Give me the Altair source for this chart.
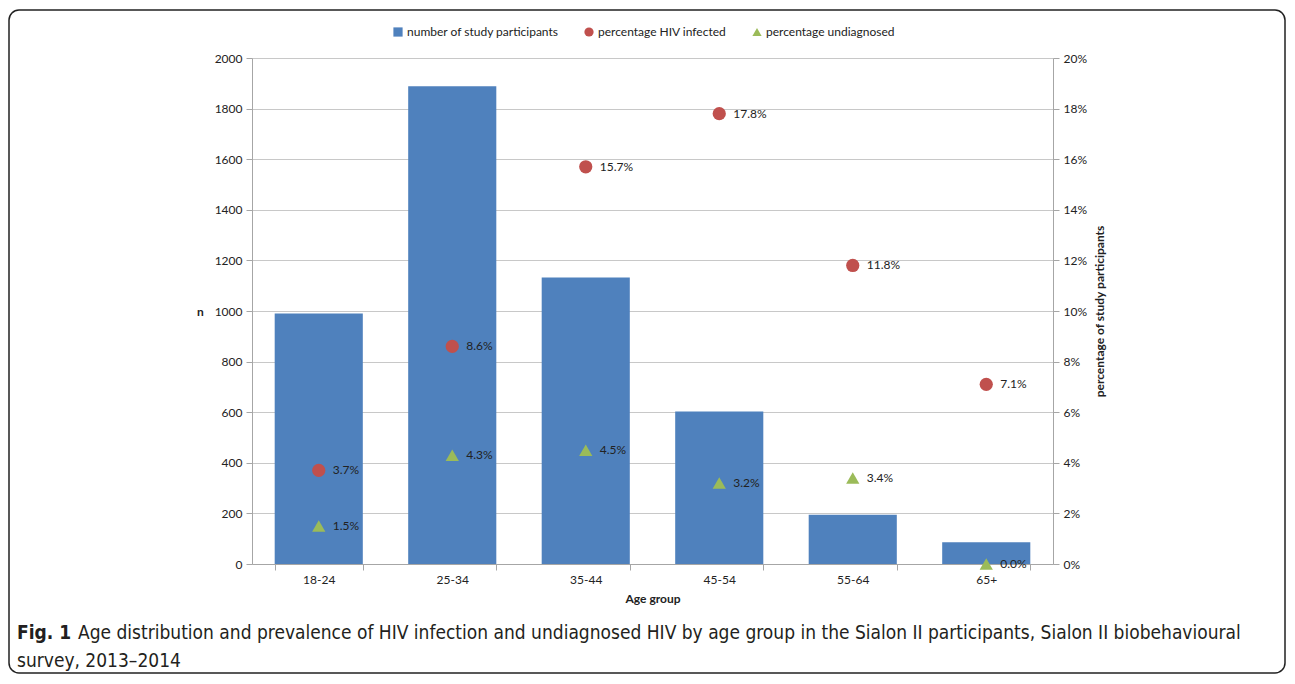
import altair as alt
import pandas as pd

ages = ["18-24", "25-34", "35-44", "45-54", "55-64", "65+"]
participants = [990, 1888, 1132, 603, 195, 86]
pct_hiv = [3.7, 8.6, 15.7, 17.8, 11.8, 7.1]
pct_undiag = [1.5, 4.3, 4.5, 3.2, 3.4, 0.0]
series_names = ["number of study participants", "percentage HIV infected", "percentage undiagnosed"]
caption_bold = "Fig. 1"
caption_1 = "Age distribution and prevalence of HIV infection and undiagnosed HIV by age group in the Sialon II participants, Sialon II biobehavioural"
caption_2 = "survey, 2013\u20132014"

rows = []
for a, n in zip(ages, participants):
    rows.append({"age": a, "series": series_names[0], "n": n, "pct": None, "label": ""})
for a, p in zip(ages, pct_hiv):
    rows.append({"age": a, "series": series_names[1], "n": None, "pct": p, "label": f"{p:.1f}%"})
for a, p in zip(ages, pct_undiag):
    rows.append({"age": a, "series": series_names[2], "n": None, "pct": p, "label": f"{p:.1f}%"})
df = pd.DataFrame(rows)

FONT = "Lato"
FS = 12
CAP_FONT = "DejaVu Sans Condensed, Roboto"
CAP_FS = 19
W, H = 801, 506

color_scale = alt.Scale(domain=series_names, range=["#4F81BD", "#C0504D", "#9BBB59"])
shape_scale = alt.Scale(domain=series_names, range=["square", "circle", "triangle-up"])
legend = alt.Legend(title=None, orient="none", legendX=140, legendY=-32, direction="horizontal",
                    labelFont=FONT, labelFontSize=FS, labelColor="#222", symbolSize=85,
                    columnPadding=24, symbolStrokeWidth=0, labelOffset=3)

x_enc = alt.X("age:N", sort=ages, title="Age group",
              scale=alt.Scale(paddingInner=0.34, paddingOuter=0.17),
              axis=alt.Axis(labelAngle=0, tickBand="extent", grid=False, domainColor="#A6A6A6",
                            tickColor="#A6A6A6", tickSize=6, labelPadding=4, titlePadding=8,
                            labelFont=FONT, labelFontSize=FS, labelColor="#222",
                            titleFont=FONT, titleFontSize=FS, titleFontWeight="bold", titleColor="#222"))

base = alt.Chart(df)

bars = base.transform_filter(alt.datum.series == series_names[0]).mark_bar().encode(
    x=x_enc,
    y=alt.Y("n:Q", scale=alt.Scale(domain=[0, 2000]), title="n",
            axis=alt.Axis(values=list(range(0, 2001, 200)), format="d", grid=True, gridColor="#C8C8C8",
                          domainColor="#A6A6A6", tickColor="#A6A6A6", tickSize=6, labelPadding=4,
                          labelFont=FONT, labelFontSize=FS, labelColor="#222",
                          titleFont=FONT, titleFontSize=FS, titleFontWeight="bold", titleColor="#222",
                          titleAngle=0, titleX=-52, titleY=H / 2, titleBaseline="middle")),
    color=alt.Color("series:N", scale=color_scale, legend=legend),
)

pct_base = base.transform_filter(alt.datum.series != series_names[0])
y_pct = alt.Y("pct:Q", scale=alt.Scale(domain=[0, 20]), title="percentage of study participants",
              axis=alt.Axis(orient="right", values=list(range(0, 21, 2)), labelExpr="datum.value + '%'",
                            grid=False, domainColor="#A6A6A6", tickColor="#A6A6A6", tickSize=6,
                            labelPadding=4, labelFont=FONT, labelFontSize=FS, labelColor="#222",
                            titleFont=FONT, titleFontSize=FS, titleFontWeight="bold", titleColor="#222",
                            titleAngle=270, titleAlign="center", titleBaseline="middle",
                            titleX=46, titleY=H / 2))

points = pct_base.mark_point(filled=True, size=175, opacity=1).encode(
    x=alt.X("age:N", sort=ages),
    y=y_pct,
    color=alt.Color("series:N", scale=color_scale, legend=legend),
    shape=alt.Shape("series:N", scale=shape_scale, legend=legend),
)
labels = pct_base.mark_text(align="left", baseline="middle", dx=14, font=FONT, fontSize=FS, color="#222").encode(
    x=alt.X("age:N", sort=ages),
    y=alt.Y("pct:Q"),
    text="label:N",
)
right = alt.layer(points, labels)

dummy = alt.Chart(pd.DataFrame({"k": [0]}))
border = dummy.mark_rect(filled=False, stroke="#222", strokeWidth=1.5, cornerRadius=10).encode(
    x=alt.value(-243), x2=alt.value(1033), y=alt.value(-48), y2=alt.value(615))
cap_b = dummy.mark_text(align="left", baseline="middle", font=CAP_FONT, fontSize=CAP_FS,
                        fontWeight="bold", color="#231F20").encode(
    x=alt.value(-235), y=alt.value(575), text=alt.value(caption_bold))
cap_1 = dummy.mark_text(align="left", baseline="middle", font=CAP_FONT, fontSize=CAP_FS,
                        color="#231F20").encode(
    x=alt.value(-174), y=alt.value(575), text=alt.value(caption_1))
cap_2 = dummy.mark_text(align="left", baseline="middle", font=CAP_FONT, fontSize=CAP_FS,
                        color="#231F20").encode(
    x=alt.value(-235), y=alt.value(603), text=alt.value(caption_2))

chart = alt.layer(bars, right, border, cap_b, cap_1, cap_2).resolve_scale(y="independent").properties(
    width=W, height=H,
    autosize=alt.AutoSizeParams(type="none"),
    padding={"left": 244, "top": 50, "right": 234, "bottom": 112},
).configure_view(stroke=None).configure(background="white")

chart.save("out.html", embed_options={"renderer": "svg", "actions": False})
